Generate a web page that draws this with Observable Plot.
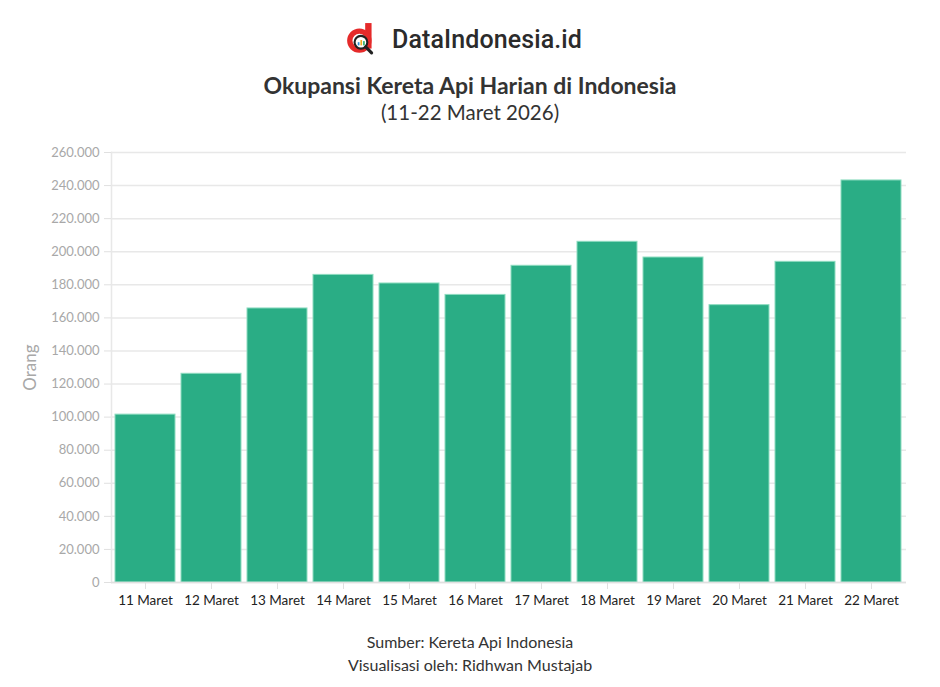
<!DOCTYPE html>
<html>
<head>
<meta charset="utf-8">
<script src="https://cdn.jsdelivr.net/npm/d3@7"></script>
<script src="https://cdn.jsdelivr.net/npm/@observablehq/plot@0.6"></script>
<style>
  body { margin: 0; background: #fff; }
  #wrap { position: relative; width: 940px; height: 687px; font-family: Lato, "Noto Sans", sans-serif; color: #333; }
  .abs { position: absolute; left: 0; width: 940px; text-align: center; }
  #logo { top: 22px; left: -6px; display: flex; justify-content: center; align-items: center; gap: 14px; }
  #logo span { font-family: Roboto, sans-serif; font-weight: 500; font-size: 25px; color: #2b2b2b; letter-spacing: 0.1px; }
  #title { top: 71px; font-size: 23px; font-weight: 700; line-height: 28px; color: #333; }
  #subtitle { top: 99px; font-size: 20.5px; line-height: 26px; }
  #chart { position: absolute; left: 0; top: 135px; }
  #caption { top: 630px; font-size: 16px; line-height: 23px; color: #333; }
</style>
</head>
<body>
<div id="wrap">
  <div id="logo" class="abs">
    <svg width="32" height="34" viewBox="0 0 30 32">
      <rect x="18" y="1" width="6" height="24" fill="#e52a2a"/>
      <circle cx="12.5" cy="17.5" r="9" fill="none" stroke="#e52a2a" stroke-width="5"/>
      <circle cx="14" cy="19" r="6" fill="#fff" stroke="#222" stroke-width="2"/>
      <rect x="11" y="19" width="1.6" height="3" fill="#2a8fd8"/>
      <rect x="13.5" y="17" width="1.6" height="5" fill="#f2b01e"/>
      <rect x="16" y="18" width="1.6" height="4" fill="#2fb36f"/>
      <line x1="18.5" y1="23.5" x2="24" y2="29" stroke="#222" stroke-width="3" stroke-linecap="round"/>
    </svg>
    <span>DataIndonesia.id</span>
  </div>
  <div id="title" class="abs">Okupansi Kereta Api Harian di Indonesia</div>
  <div id="subtitle" class="abs">(11-22 Maret 2026)</div>
  <div id="chart"></div>
  <div id="caption" class="abs">Sumber: Kereta Api Indonesia<br>Visualisasi oleh: Ridhwan Mustajab</div>
</div>
<script>
const dates = ["11 Maret","12 Maret","13 Maret","14 Maret","15 Maret","16 Maret","17 Maret","18 Maret","19 Maret","20 Maret","21 Maret","22 Maret"];
const values = [101500, 126200, 165700, 186000, 180800, 173900, 191500, 206000, 196500, 167700, 193900, 243100];
const yTicks = [0, 20000, 40000, 60000, 80000, 100000, 120000, 140000, 160000, 180000, 200000, 220000, 240000, 260000];

const data = dates.map((d, i) => ({date: d, value: values[i]}));
const fmt = v => v === 0 ? "0" : d3.format(",")(v).replace(/,/g, ".");

const plot = Plot.plot({
  width: 940,
  height: 477,
  marginTop: 17,
  marginBottom: 30,
  marginLeft: 111,
  marginRight: 34,
  style: {fontFamily: "Lato, 'Noto Sans', sans-serif", fontSize: "13px", background: "#fff"},
  x: {domain: dates, paddingInner: 0.09, paddingOuter: 0.04, label: null},
  y: {domain: [0, 260000], label: null},
  marks: [
    Plot.gridY(yTicks, {stroke: "#e8e8e8", strokeOpacity: 1, strokeWidth: 1.5}),
    Plot.frame({anchor: "left", stroke: "#e8e8e8", strokeWidth: 1.5}),
    Plot.axisY({ticks: yTicks, tickFormat: fmt, tickSize: 7, tickPadding: 5, stroke: "#e0e0e0", fill: "#a8a8a8", fontSize: 13}),
    Plot.barY(data, {x: "date", y: "value", fill: "#26ab83", fillOpacity: 0.98, stroke: "#8edcc0", strokeWidth: 1}),
    Plot.ruleY([0], {stroke: "#e0e0e0", strokeWidth: 1.5}),
    Plot.axisX({tickSize: 7, tickPadding: 6, stroke: "#e0e0e0", fill: "#222", fontSize: 13.5}),
    Plot.text(["Orang"], {frameAnchor: "left", dx: -81, rotate: -90, textAnchor: "middle", fill: "#a8a8a8", fontSize: 17})
  ]
});
document.getElementById("chart").appendChild(plot);
</script>
</body>
</html>
